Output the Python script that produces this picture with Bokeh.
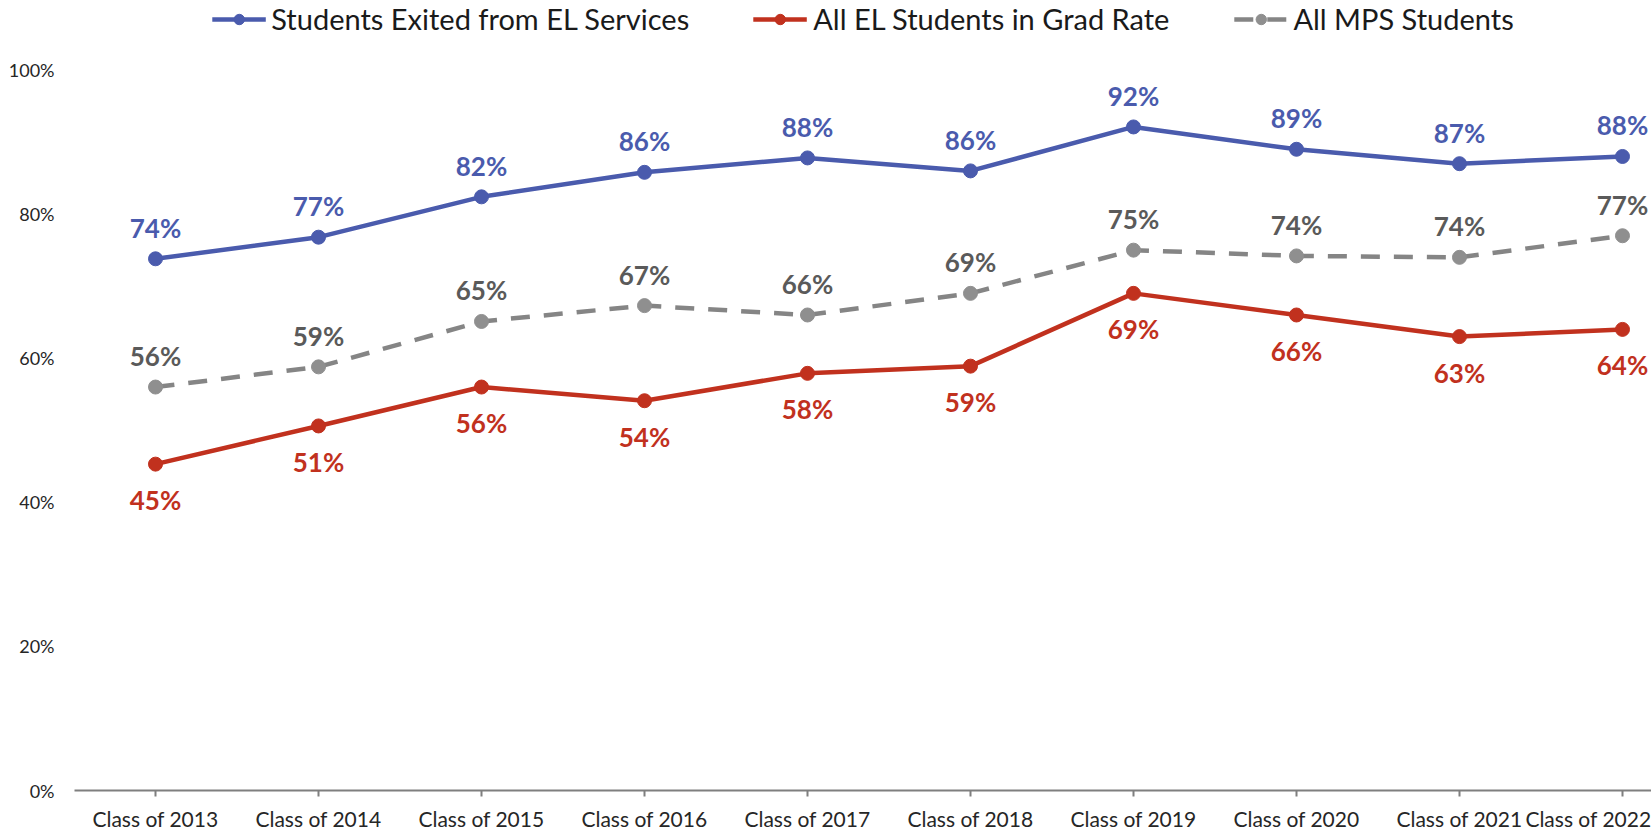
from bokeh.plotting import figure
from bokeh.models import Range1d, FixedTicker, Legend, LegendItem, ColumnDataSource
from bokeh.core.properties import value
from bokeh.embed import file_html
from bokeh.resources import INLINE

classes = ["Class of 2013", "Class of 2014", "Class of 2015", "Class of 2016", "Class of 2017",
           "Class of 2018", "Class of 2019", "Class of 2020", "Class of 2021", "Class of 2022"]
exited_el = [73.8, 76.8, 82.4, 85.8, 87.8, 86.0, 92.1, 89.0, 87.0, 88.0]
all_el = [45.3, 50.6, 56.0, 54.1, 57.9, 58.9, 69.0, 66.0, 63.0, 64.0]
all_mps = [56.0, 58.8, 65.1, 67.3, 66.0, 69.0, 75.0, 74.2, 74.0, 77.0]
y_ticks = [0, 20, 40, 60, 80, 100]
series_names = ["Students Exited from EL Services", "All EL Students in Grad Rate", "All MPS Students"]

BLUE = "#4a5bad"
RED = "#c1311e"
GRAY = "#858585"
GRAY_MK = "#8f8f8f"
GRAY_TXT = "#5a5a5a"
FONT = "Lato"

xs = list(range(len(classes)))

p = figure(width=1651, height=838, output_backend="svg", toolbar_location=None,
           x_range=Range1d(-0.497, 9.178), y_range=Range1d(0, 109.65),
           min_border_left=74, min_border_right=0, min_border_top=0, min_border_bottom=48)
p.outline_line_color = None
p.xgrid.visible = False
p.ygrid.visible = False
p.background_fill_color = "white"
p.border_fill_color = "white"

# x axis
p.xaxis.ticker = FixedTicker(ticks=xs)
p.xaxis.major_label_overrides = {i: c for i, c in zip(xs, classes)}
p.xaxis.axis_line_color = "#7f7f7f"
p.xaxis.axis_line_width = 2
p.xaxis.major_tick_line_color = "#7f7f7f"
p.xaxis.major_tick_line_width = 2
p.xaxis.major_tick_in = 0
p.xaxis.major_tick_out = 6
p.xaxis.minor_tick_line_color = None
p.xaxis.major_label_standoff = 9
p.xaxis.major_label_text_font = FONT
p.xaxis.major_label_text_font_size = "21px"
p.xaxis.major_label_text_color = "#262626"

# y axis
p.yaxis.ticker = FixedTicker(ticks=y_ticks)
p.yaxis.major_label_overrides = {t: f"{t}%" for t in y_ticks}
p.yaxis.axis_line_color = None
p.yaxis.major_tick_line_color = None
p.yaxis.minor_tick_line_color = None
p.yaxis.major_label_standoff = 14
p.yaxis.major_label_text_font = FONT
p.yaxis.major_label_text_font_size = "18px"
p.yaxis.major_label_text_color = "#262626"

items = []
specs = [
    (exited_el, BLUE, BLUE, BLUE, None, -31),
    (all_el, RED, RED, RED, None, 36),
    (all_mps, GRAY, GRAY_MK, GRAY_TXT, "19 14", -31),
]
for name, (vals, lc, mc, tc, dash, yoff) in zip(series_names, specs):
    src = ColumnDataSource(dict(x=xs, y=vals, lab=[f"{int(v + 0.5)}%" for v in vals]))
    kw = {}
    if dash:
        kw["line_dash"] = dash
    ln = p.line("x", "y", source=src, line_color=lc, line_width=4.5, **kw)
    sc = p.scatter("x", "y", source=src, marker="circle", size=14, fill_color=mc, line_color=mc)
    p.text("x", "y", text="lab", source=src, text_align="center", text_baseline="middle",
           y_offset=yoff, text_color=tc, text_font=value(FONT), text_font_style="bold",
           text_font_size="26px")
    items.append(LegendItem(label=name, renderers=[ln, sc]))

legend = Legend(items=items, orientation="horizontal", location="top_center",
                label_text_font=FONT, label_text_font_size="29px", label_text_color="#1a1a1a",
                glyph_width=54, glyph_height=26, label_standoff=6, spacing=64,
                padding=0, margin=1, border_line_color=None, background_fill_alpha=0)
p.add_layout(legend, "center")

open("out.html", "w").write(file_html(p, INLINE))
